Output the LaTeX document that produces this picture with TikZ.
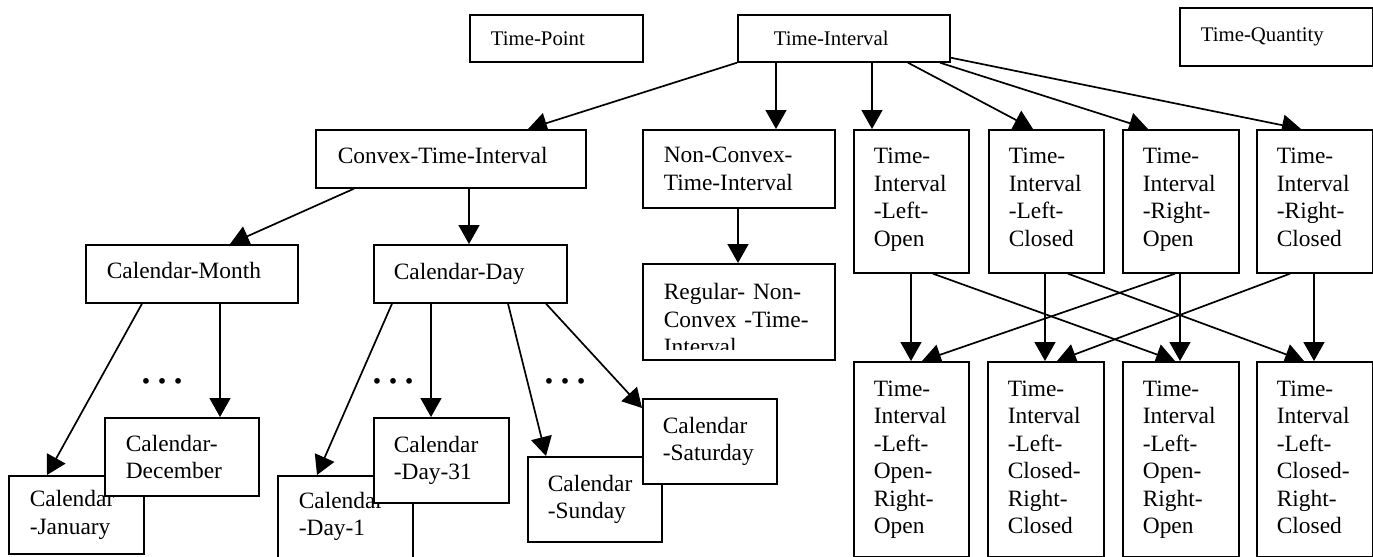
\documentclass[tikz,border=0pt]{standalone}
\usepackage{fontspec}
\setmainfont{Liberation Serif}
\usetikzlibrary{arrows.meta,calc,backgrounds}
\begin{document}
\begin{tikzpicture}[x=0.5pt,y=-0.5pt,
  bx/.style={draw, fill=white, line width=0.85pt, rectangle, anchor=north west,
    align=left, inner xsep=0pt, inner ysep=0pt,
    font=\fontsize{11.7}{13.75}\selectfont},
  topbx/.style={bx, font=\fontsize{10.4}{12.5}\selectfont},
  fourline/.style={text height=8pt, text depth=45.75pt},
  sixline/.style={text height=8pt, text depth=71.25pt},
  arr/.style={line width=0.85pt, -{Triangle[length=9.5pt,width=10.5pt]}},
  dotsnode/.style={inner sep=0pt, font=\fontsize{24}{24}\selectfont}]
\useasboundingbox (0,0) rectangle (1373,557);

% top row
\node[topbx, minimum width=86.5pt, minimum height=23.5pt, text width=65.5pt] (tp) at (469,14) {Time-Point};
\node[topbx, minimum width=106pt, minimum height=23.5pt, text width=70pt] (ti) at (737,14) {Time-Interval};
\node[topbx, minimum width=96.5pt, minimum height=29pt, text width=75.5pt] (tq) at (1179,7) {Time-Quantity};

% second row
\node[bx, minimum width=135pt, minimum height=29pt, text width=113pt, text depth=3pt] (cti) at (315,129) {Convex-Time-Interval};
\node[bx, minimum width=96pt, minimum height=39pt, text width=75pt] (ncti) at (642,129) {Non-Convex-\\Time-Interval};
\node[bx, fourline, minimum width=57.5pt, minimum height=71.5pt, text width=37.5pt] (tilo) at (853,129) {Time-\\Interval\\-Left-\\Open};
\node[bx, fourline, minimum width=57.5pt, minimum height=71.5pt, text width=37.5pt] (tilc) at (988,129) {Time-\\Interval\\-Left-\\Closed};
\node[bx, fourline, minimum width=58pt, minimum height=71.5pt, text width=38pt] (tiro) at (1122,129) {Time-\\Interval\\-Right-\\Open};
\node[bx, fourline, minimum width=58pt, minimum height=71.5pt, text width=38pt] (tirc) at (1256,129) {Time-\\Interval\\-Right-\\Closed};

% third row
\node[bx, minimum width=106pt, minimum height=29pt, text width=85pt, text depth=3pt] (cm) at (85,244) {Calendar-Month};
\node[bx, minimum width=96.5pt, minimum height=29pt, text width=76.5pt] (cd) at (373,244) {Calendar-Day};
\node[bx, minimum width=96pt, minimum height=48pt, text width=75pt, text height=15.5pt] (reg) at (642,263) {Regular- Non-\\Convex -Time-\\Interval};
\fill[white] ($(reg.south west)+(1.7,-1.7)$) rectangle ($(reg.south east)+(-1.7,-11)$);

% calendar leaves
\node[bx, minimum width=67.5pt, minimum height=39pt, text width=46.5pt] (jan) at (8,475) {Calendar\\-January};
\node[bx, minimum width=77pt, minimum height=39pt, text width=56pt] (dec) at (104,417) {Calendar-\\December};
\node[bx, minimum width=67.5pt, minimum height=50pt, text width=46.5pt, text height=8pt, text depth=25.5pt] (d1) at (277,475) {Calendar\\-Day-1};
\node[bx, minimum width=67.5pt, minimum height=42.5pt, text width=47.5pt] (d31) at (373,417) {Calendar\\-Day-31};
\node[bx, minimum width=67pt, minimum height=42.5pt, text width=47pt] (sun) at (527,456) {Calendar\\-Sunday};
\node[bx, minimum width=67pt, minimum height=42.5pt, text width=47pt] (sat) at (642,398) {Calendar\\-Saturday};

% bottom row
\node[bx, sixline, minimum width=57.5pt, minimum height=97.5pt, text width=37.5pt] (b1) at (853,361) {Time-\\Interval\\-Left-\\Open-\\Right-\\Open};
\node[bx, sixline, minimum width=58pt, minimum height=97.5pt, text width=38pt] (b2) at (987,361) {Time-\\Interval\\-Left-\\Closed-\\Right-\\Closed};
\node[bx, sixline, minimum width=58pt, minimum height=97.5pt, text width=38pt] (b3) at (1122,361) {Time-\\Interval\\-Left-\\Open-\\Right-\\Open};
\node[bx, sixline, minimum width=58pt, minimum height=97.5pt, text width=38pt] (b4) at (1256,361) {Time-\\Interval\\-Left-\\Closed-\\Right-\\Closed};

% ellipses
\node[dotsnode] (dots1) at (162,381) {…};
\node[dotsnode] (dots2) at (393,381) {…};
\node[dotsnode] (dots3) at (565,381) {…};

\begin{pgfonlayer}{background}
\fill[white] (0,0) rectangle (1373,557);
\draw[arr] (ti.south west) -- ($(cti.north west)+(213,0)$);
\draw[arr] ($(ti.south west)+(39,0)$) -- ($(ncti.north west)+(134,0)$);
\draw[arr] ($(ti.south west)+(135,0)$) -- ($(tilo.north west)+(19,0)$);
\draw[arr] ($(ti.south west)+(171,0)$) -- ($(tilc.north west)+(45,0)$);
\draw[arr] ($(ti.south west)+(203,0)$) -- ($(tiro.north west)+(26,0)$);
\draw[arr] ($(ti.south east)+(0,-5)$) -- ($(tirc.north west)+(45,0)$);
\draw[arr] ($(cti.south west)+(39,0)$) -- ($(cm.north west)+(145,0)$);
\draw[arr] ($(cti.south west)+(154,0)$) -- ($(cd.north west)+(96,0)$);
\draw[arr] ($(ncti.south west)+(96,0)$) -- ($(reg.north west)+(96,0)$);
\draw[arr] ($(cm.south west)+(57,0)$) -- ($(jan.north west)+(39,0)$);
\draw[arr] ($(cm.south west)+(135,0)$) -- ($(dec.north west)+(116,0)$);
\draw[arr] ($(cd.south west)+(19,0)$) -- ($(d1.north west)+(40,0)$);
\draw[arr] ($(cd.south west)+(58,0)$) -- ($(d31.north west)+(58,0)$);
\draw[arr] ($(cd.south west)+(135,0)$) -- ($(sun.north west)+(19,0)$);
\draw[arr] ($(cd.south west)+(173,0)$) -- ($(sat.north west)+(0,10)$);
\draw[arr] ($(tilo.south west)+(58,0)$) -- ($(b1.north west)+(58,0)$);
\draw[arr] ($(tilo.south west)+(80,0)$) -- ($(b3.north west)+(53,0)$);
\draw[arr] ($(tilc.south west)+(57,0)$) -- ($(b2.north west)+(58,0)$);
\draw[arr] ($(tilc.south west)+(80,0)$) -- ($(b4.north west)+(48,0)$);
\draw[arr] ($(tiro.south west)+(53,0)$) -- ($(b1.north west)+(69,0)$);
\draw[arr] ($(tiro.south west)+(58,0)$) -- ($(b3.north west)+(58,0)$);
\draw[arr] ($(tirc.south west)+(34,0)$) -- ($(b2.north west)+(70,0)$);
\draw[arr] ($(tirc.south west)+(58,0)$) -- ($(b4.north west)+(58,0)$);
\end{pgfonlayer}
\end{tikzpicture}
\end{document}
